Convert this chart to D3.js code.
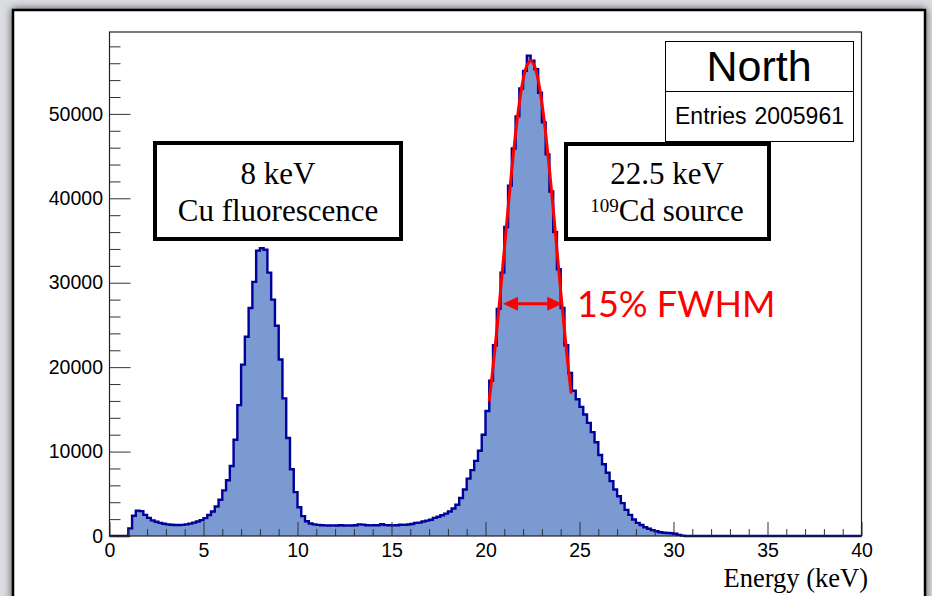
<!DOCTYPE html>
<html>
<head>
<meta charset="utf-8">
<script src="https://cdn.jsdelivr.net/npm/d3@7"></script>
<style>
  html, body { margin: 0; padding: 0; background: #dfe0e5; }
  svg { display: block; }
</style>
</head>
<body>
<svg id="chart" width="932" height="596"></svg>
<script>
// Energy spectrum, 0-40 keV in 0.2 keV bins
const binWidth = 0.2;
const counts = [
  0, 0, 0, 0, 0, 900, 2400, 3000, 2950, 2500,
  2150, 1850, 1680, 1560, 1450, 1380, 1330, 1310, 1300, 1320,
  1380, 1470, 1580, 1720, 1880, 2120, 2480, 2900, 3500, 4300,
  5400, 6600, 8300, 11400, 15500, 20300, 23600, 27000, 30100, 33800,
  34100, 33900, 31200, 28000, 24900, 20900, 16300, 11600, 7900, 5200,
  3400, 2350, 1750, 1480, 1380, 1320, 1280, 1260, 1250, 1260,
  1250, 1270, 1250, 1260, 1250, 1280, 1380, 1350, 1270, 1260,
  1280, 1270, 1400, 1290, 1270, 1260, 1280, 1340, 1320, 1360,
  1420, 1550, 1580, 1720, 1820, 1930, 2150, 2280, 2450, 2650,
  2900, 3250, 3700, 4500, 5500, 6800, 7800, 8900, 10100, 12000,
  14800, 18400, 22600, 26900, 31200, 36600, 41500, 45900, 49700, 53000,
  55100, 56900, 56300, 55300, 52500, 49000, 45200, 40800, 36000, 31600,
  27000, 22600, 19300, 17200, 16200, 15300, 14400, 13400, 12300, 11100,
  9600, 8500, 7500, 6500, 5500, 4700, 3900, 3100, 2500, 1950,
  1550, 1300, 1030, 850, 700, 560, 450, 390, 350, 330,
  270, 130, 40, 0, 0, 0, 0, 0, 0, 0,
  0, 0, 0, 0, 0, 0, 0, 0, 0, 0,
  0, 0, 0, 0, 0, 0, 0, 0, 0, 0,
  0, 0, 0, 0, 0, 0, 0, 0, 0, 0,
  0, 0, 0, 0, 0, 0, 0, 0, 0, 0
];

// Gaussian fit on the 22.5 keV line: [energy keV, counts]
const fitCurve = [
  [20.2, 16090], [20.3, 17980], [20.4, 20000], [20.5, 22120], [20.6, 24340],
  [20.7, 26650], [20.8, 29030], [20.9, 31450], [21.0, 33900], [21.2, 38790],
  [21.4, 43460], [21.6, 47710], [21.8, 51290], [22.0, 54010], [22.2, 55720],
  [22.4, 56300], [22.6, 55720], [22.8, 54010], [23.0, 51290], [23.2, 47710],
  [23.4, 43460], [23.6, 38790], [23.8, 33900], [23.9, 31450], [24.0, 29030],
  [24.1, 26650], [24.2, 24340], [24.3, 22120], [24.4, 20000], [24.5, 17980],
  [24.55, 17000]
];

// Half-maximum width marker (keV) and its height (counts)
const fwhmBounds = [20.93, 24.08];
const fwhmLevel = 27500;
const fwhmText = "15% FWHM";

const xMajorTicks = [0, 5, 10, 15, 20, 25, 30, 35, 40];
const xMinorTicks = [1, 2, 3, 4, 6, 7, 8, 9, 11, 12, 13, 14, 16, 17, 18, 19, 21, 22, 23, 24, 26, 27, 28, 29, 31, 32, 33, 34, 36, 37, 38, 39];
const yMajorTicks = [0, 10000, 20000, 30000, 40000, 50000];
const yMinorTicks = [2000, 4000, 6000, 8000, 12000, 14000, 16000, 18000, 22000, 24000, 26000, 28000,
  32000, 34000, 36000, 38000, 42000, 44000, 46000, 48000, 52000, 54000, 56000, 58000];

const xDomain = [0, 40];
const yMax = 59700;
const xTitle = "Energy (keV)";
const statTitle = "North";
const statLabel = "Entries";
const statEntries = "2005961";
const cuLines = ["8 keV", "Cu fluorescence"];
const cdLine1 = "22.5 keV";
const cdIsotope = "109";
const cdLine2 = "Cd source";

// ---- layout ----
const svg = d3.select("#chart");
const frame = { left: 109.5, right: 861.5, top: 32, bottom: 536 };
const x = d3.scaleLinear().domain(xDomain).range([frame.left, frame.right]);
const y = d3.scaleLinear().domain([0, yMax]).range([frame.bottom, frame.top]);

const sans = "'Liberation Sans', Arial, Helvetica, sans-serif";
const serif = "'Liberation Serif', 'Times New Roman', Times, serif";

// window backdrop with a soft shadow around the white canvas
const defs = svg.append("defs");
const shadow = defs.append("filter").attr("id", "panelShadow")
  .attr("x", "-5%").attr("y", "-5%").attr("width", "110%").attr("height", "110%");
shadow.append("feDropShadow").attr("dx", 0).attr("dy", 0)
  .attr("stdDeviation", 4).attr("flood-color", "#000").attr("flood-opacity", 0.65);

svg.append("rect").attr("x", 0).attr("y", 0).attr("width", 932).attr("height", 596)
  .attr("fill", "#dcdde2");
svg.append("rect").attr("x", 13).attr("y", 10).attr("width", 912).attr("height", 600)
  .attr("fill", "#fff").attr("stroke", "#000").attr("stroke-width", 2.5)
  .attr("filter", "url(#panelShadow)");

// ---- histogram ----
const steps = counts.map((c, i) => ({ e: i * binWidth, c }));
steps.push({ e: xDomain[1], c: counts[counts.length - 1] });

svg.append("path")
  .datum(steps)
  .attr("fill", "#7b9ad2")
  .attr("d", d3.area().curve(d3.curveStepAfter)
    .x(d => x(d.e)).y0(y(0)).y1(d => y(d.c)));

svg.append("path")
  .datum(steps)
  .attr("fill", "none")
  .attr("stroke", "#00009a")
  .attr("stroke-width", 2.4)
  .attr("stroke-linejoin", "miter")
  .attr("d", d3.line().curve(d3.curveStepAfter)
    .x(d => x(d.e)).y(d => y(d.c)));

// ---- fit ----
svg.append("path")
  .datum(fitCurve)
  .attr("fill", "none")
  .attr("stroke", "#ff0000")
  .attr("stroke-width", 3)
  .attr("stroke-linecap", "round")
  .attr("d", d3.line().curve(d3.curveCatmullRom)
    .x(d => x(d[0])).y(d => y(d[1])));

// ---- axes ----
const tickColor = "#333";
function styleAxis(g) {
  g.select(".domain").remove();
  g.selectAll(".tick line").attr("stroke", tickColor).attr("stroke-width", 1);
  g.selectAll(".tick text").attr("fill", "#000")
    .attr("font-family", sans).attr("font-size", "19.5px");
}

svg.append("g").attr("transform", `translate(0,${frame.bottom})`)
  .call(d3.axisBottom(x).tickValues(xMajorTicks).tickSize(-14).tickPadding(7)
    .tickFormat(d3.format("d")))
  .call(styleAxis);
svg.append("g").attr("transform", `translate(0,${frame.bottom})`)
  .call(d3.axisBottom(x).tickValues(xMinorTicks).tickSize(-7).tickFormat(""))
  .call(styleAxis);

svg.append("g").attr("transform", `translate(${frame.left},0)`)
  .call(d3.axisLeft(y).tickValues(yMajorTicks).tickSize(-21).tickPadding(6.5)
    .tickFormat(d3.format("d")))
  .call(styleAxis);
svg.append("g").attr("transform", `translate(${frame.left},0)`)
  .call(d3.axisLeft(y).tickValues(yMinorTicks).tickSize(-11).tickFormat(""))
  .call(styleAxis);

// frame
svg.append("rect")
  .attr("x", frame.left).attr("y", frame.top)
  .attr("width", frame.right - frame.left).attr("height", frame.bottom - frame.top)
  .attr("fill", "none").attr("stroke", "#222").attr("stroke-width", 1.2);

svg.append("text")
  .attr("x", 868).attr("y", 587)
  .attr("text-anchor", "end")
  .attr("font-family", serif).attr("font-size", "26.5px")
  .text(xTitle);

// ---- statistics box ----
const stat = svg.append("g");
stat.append("rect").attr("x", 665.5).attr("y", 41.5).attr("width", 188).attr("height", 100)
  .attr("fill", "#fff").attr("stroke", "#000").attr("stroke-width", 1);
stat.append("line").attr("x1", 665.5).attr("x2", 853.5).attr("y1", 91.5).attr("y2", 91.5)
  .attr("stroke", "#000").attr("stroke-width", 1);
stat.append("text").attr("x", 759).attr("y", 81).attr("text-anchor", "middle")
  .attr("font-family", sans).attr("font-size", "43px").text(statTitle);
stat.append("text").attr("x", 675).attr("y", 124)
  .attr("font-family", sans).attr("font-size", "23px").text(statLabel);
stat.append("text").attr("x", 844).attr("y", 124).attr("text-anchor", "end")
  .attr("font-family", sans).attr("font-size", "23px").text(statEntries);

// ---- peak labels ----
function labelBox(x0, y0, w, h) {
  svg.append("rect").attr("x", x0).attr("y", y0).attr("width", w).attr("height", h)
    .attr("fill", "#fff").attr("stroke", "#000").attr("stroke-width", 4);
}
const labelSize = "31px";
labelBox(155, 143, 246, 96);
svg.append("text").attr("x", 278).attr("y", 184).attr("text-anchor", "middle")
  .attr("font-family", serif).attr("font-size", labelSize).text(cuLines[0]);
svg.append("text").attr("x", 278).attr("y", 221).attr("text-anchor", "middle")
  .attr("font-family", serif).attr("font-size", labelSize).text(cuLines[1]);

labelBox(566, 144, 203, 95);
svg.append("text").attr("x", 667).attr("y", 184).attr("text-anchor", "middle")
  .attr("font-family", serif).attr("font-size", labelSize).text(cdLine1);
const cdText = svg.append("text").attr("x", 667).attr("y", 221).attr("text-anchor", "middle")
  .attr("font-family", serif).attr("font-size", labelSize);
cdText.append("tspan").attr("font-size", "19px").attr("dy", -9).text(cdIsotope);
cdText.append("tspan").attr("dy", 9).text(cdLine2);

// ---- FWHM marker ----
const ay = y(fwhmLevel);
const ax0 = x(fwhmBounds[0]);
const ax1 = x(fwhmBounds[1]);
const headLen = 15, headHalf = 7;
svg.append("line")
  .attr("x1", ax0 + headLen - 2).attr("x2", ax1 - headLen + 2)
  .attr("y1", ay).attr("y2", ay)
  .attr("stroke", "#ff0000").attr("stroke-width", 3);
svg.append("path")
  .attr("d", `M${ax0},${ay} L${ax0 + headLen},${ay - headHalf} L${ax0 + headLen},${ay + headHalf} Z`)
  .attr("fill", "#ff0000");
svg.append("path")
  .attr("d", `M${ax1},${ay} L${ax1 - headLen},${ay - headHalf} L${ax1 - headLen},${ay + headHalf} Z`)
  .attr("fill", "#ff0000");
svg.append("text")
  .attr("x", 577).attr("y", 317)
  .attr("font-family", "Lato, 'Open Sans', sans-serif").attr("font-size", "36px")
  .attr("fill", "#ff0000")
  .text(fwhmText);
</script>
</body>
</html>
